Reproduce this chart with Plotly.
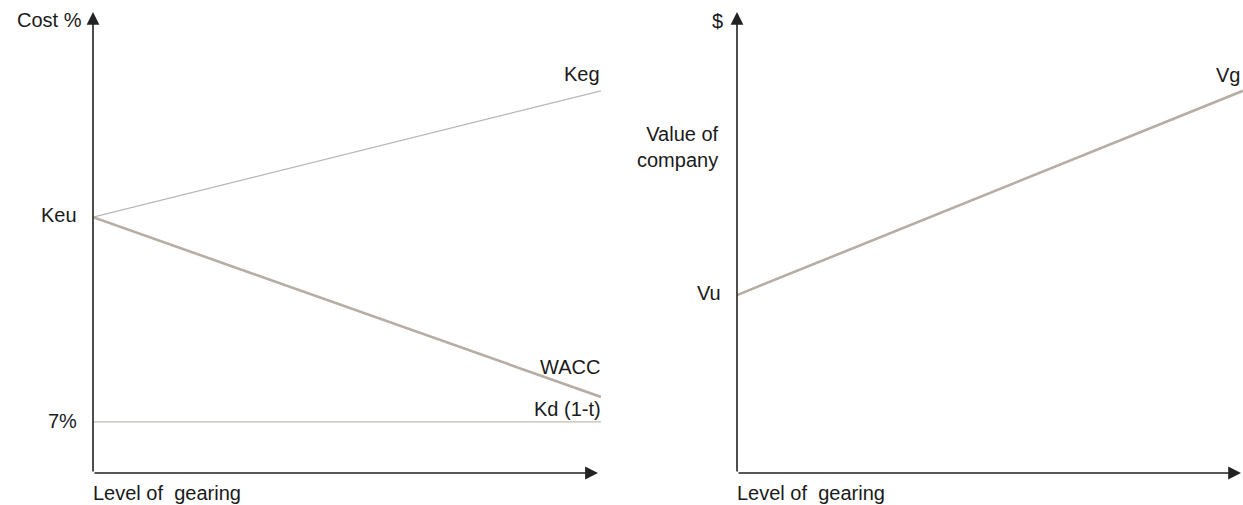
import plotly.graph_objects as go

# Data (conceptual values, y scale 0-100)
gearing = [0, 1]
keu = 55.5
keg = [55.5, 82.9]
wacc = [55.5, 16.5]
kd = [11.1, 11.1]
vg = [38.6, 82.9]

W, H = 1243, 505
def px(x): return x / W
def py(y): return 1 - y / H

FONT = "Liberation Sans"
FS = 20
TXT = "#1a1a1a"
AX = "#222222"

fig = go.Figure()
fig.add_trace(go.Scatter(x=gearing, y=keg, mode="lines", line=dict(color="#b9b6b3", width=1.2),
                         xaxis="x", yaxis="y", hoverinfo="skip"))
fig.add_trace(go.Scatter(x=gearing, y=wacc, mode="lines", line=dict(color="#b6ada5", width=2.6),
                         xaxis="x", yaxis="y", hoverinfo="skip"))
fig.add_trace(go.Scatter(x=gearing, y=kd, mode="lines", line=dict(color="#c4b9ae", width=1.2),
                         xaxis="x", yaxis="y", hoverinfo="skip"))
fig.add_trace(go.Scatter(x=gearing, y=vg, mode="lines", line=dict(color="#b6ada5", width=2.6),
                         xaxis="x2", yaxis="y2", hoverinfo="skip"))

ybot, ytop = py(473), py(12)
axcommon = dict(showgrid=False, zeroline=False, showticklabels=False, ticks="", showline=False, fixedrange=True)
fig.update_layout(
    width=W, height=H,
    margin=dict(l=0, r=0, t=0, b=0),
    paper_bgcolor="white", plot_bgcolor="white",
    showlegend=False,
    font=dict(family=FONT, size=FS, color=TXT),
    xaxis=dict(domain=[px(93), px(601)], range=[0, 1], **axcommon),
    yaxis=dict(domain=[ybot, ytop], range=[0, 100], **axcommon),
    xaxis2=dict(domain=[px(737), px(1243)], range=[0, 1], anchor="y2", **axcommon),
    yaxis2=dict(domain=[ybot, ytop], range=[0, 100], anchor="x2", **axcommon),
)

anns = []
def arrow(xr, yr, x, y, ax, ay):
    anns.append(dict(x=x, y=y, ax=ax, ay=ay, xref=xr, yref=yr, axref=xr, ayref=yr,
                     showarrow=True, arrowhead=2, arrowsize=1.6, arrowwidth=1.6,
                     arrowcolor=AX, text="", standoff=0, startstandoff=0))

arrow("x", "y", 0, 100, 0, 0)
arrow("x", "y", 0.994, 0, 0, 0)
arrow("x2", "y2", 0, 100, 0, 0)
arrow("x2", "y2", 0.996, 0, 0, 0)

def label(xr, yr, x, y, text, xanchor, xshift=0, yshift=0, align="left"):
    anns.append(dict(x=x, y=y, xref=xr, yref=yr, text=text, showarrow=False,
                     xanchor=xanchor, yanchor="middle", xshift=xshift, yshift=yshift, align=align,
                     font=dict(family=FONT, size=FS, color=TXT)))

label("x", "y", 0, 98.3, "Cost %", "right", xshift=-9)
label("x", "y", 0, keu, "Keu", "right", xshift=-14, yshift=2)
label("x", "y", 0, kd[0], "7%", "right", xshift=-14, yshift=1)
label("x", "y", 1, keg[1], "Keg", "right", xshift=1, yshift=17)
label("x", "y", 1, wacc[1], "WACC", "right", xshift=1, yshift=30)
label("x", "y", 1, kd[1], "Kd (1-t)", "right", xshift=2, yshift=13)
label("x", "y", 0, 0, "Level of  gearing", "left", xshift=-2, yshift=-20)

label("x2", "y2", 0, 98, "$", "right", xshift=-12)
label("x2", "y2", 0, 70.7, "Value of<br>company", "right", xshift=-16, align="right")
label("x2", "y2", 0, vg[0], "Vu", "right", xshift=-14, yshift=2)
label("x2", "y2", 1, vg[1], "Vg", "right", xshift=-1, yshift=16)
label("x2", "y2", 0, 0, "Level of  gearing", "left", xshift=-2, yshift=-20)

fig.update_layout(annotations=anns)
fig.write_html("out.html", config={"displayModeBar": False},
               post_script="document.body.style.margin='0';document.body.style.overflow='hidden';")
